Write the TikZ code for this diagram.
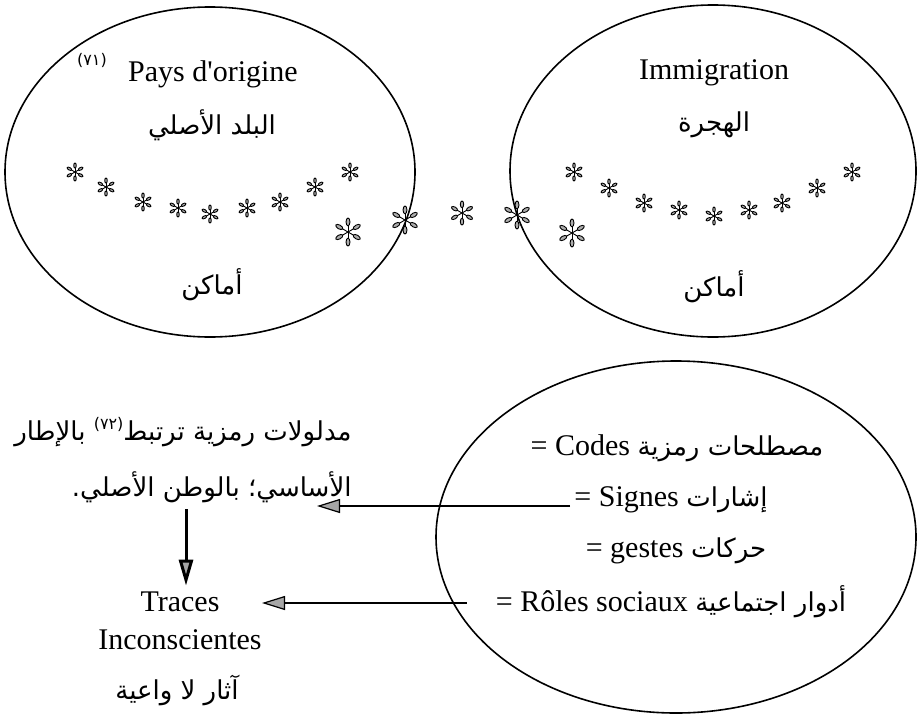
\documentclass[tikz,border=0pt]{standalone}
\usepackage{fontspec}
\setmainfont{Liberation Serif}
\newfontfamily\arabicfont[Script=Arabic]{DejaVu Sans}
\TeXXeTstate=1
\usetikzlibrary{arrows.meta, positioning, shapes.geometric, calc}

\begin{document}
\begin{tikzpicture}[
    x=0.5pt, y=-0.5pt,
    region/.style={
      draw,
      ellipse,
      line width=0.8pt
    },
    label/.style={
      font=\fontsize{15}{19}\selectfont,
      align=center,
      inner sep=2pt
    },
    artext/.style={
      font=\arabicfont\fontsize{13}{28}\selectfont,
      inner sep=2pt
    },
    entry/.style={
      font=\fontsize{15}{19}\selectfont,
      anchor=base,
      inner sep=2pt
    },
    arrow/.style={
      -{Triangle[length=11.5pt, width=7pt, fill=gray!70]},
      line width=0.6pt
    },
    flake/.pic={
      \foreach \a in {30,90,...,330} {
        \draw [line width=0.45pt] (0,0) -- (\a:0.5);
        \filldraw [fill=gray!65, line width=0.45pt, rotate=\a] (0.72,0) ellipse (0.28 and 0.14);
      }
    }
]
\useasboundingbox (0,0) rectangle (919,717);

% Top regions
\node (origin) [region, minimum width=205pt, minimum height=165pt] at (210,172) {};
\node (immig) [region, minimum width=203pt, minimum height=166pt] at (713,171) {};

\node (pays) [label] at (213,74) {Pays d\textquotesingle origine};
\node (note1) [artext, font=\arabicfont\fontsize{8}{8}\selectfont] at (92,60) {(٧١)};
\node (balad) [artext] at (212,125) {\beginR البلد الأصلي\endR};
\node (places1) [artext] at (212,285) {أماكن};

\node (immigration) [label] at (714,73) {Immigration};
\node (hijra) [artext] at (714,125) {الهجرة};
\node (places2) [artext] at (714,287) {أماكن};

% Stars
\foreach \p in {(75,172),(106,187),(143,202),(178,208),(210,214),(247,208),(280,202),(315,187),(350,172),
                (574,172),(609,188),(644,203),(679,210),(714,216),(749,210),(782,203),(817,188),(852,172)}
  \pic [scale=9] at \p {flake};
\foreach \p/\s in {(348,232)/14,(405,220)/14,(462,213)/12,(517,215)/14,(572,233)/14}
  \pic [scale=\s] at \p {flake};

% Symbolic codes
\node (symbols) [region, minimum width=240pt, minimum height=176pt] at (676,537) {};
\node (codes) [entry] at (677,455) {= Codes {\arabicfont\fontsize{13}{19}\selectfont\beginR مصطلحات رمزية\endR}};
\node (signes) [entry] at (671,506) {= Signes {\arabicfont\fontsize{13}{19}\selectfont إشارات}};
\node (gestes) [entry] at (676,557) {= gestes {\arabicfont\fontsize{13}{19}\selectfont حركات}};
\node (roles) [entry] at (671,611) {= Rôles sociaux {\arabicfont\fontsize{13}{19}\selectfont\beginR أدوار اجتماعية\endR}};

% Meanings and traces
\node (meaning) [artext, align=right, anchor=east, inner sep=0pt] at (352,460)
  {\beginR مدلولات رمزية ترتبط\raisebox{0.8ex}{\fontsize{8}{8}\selectfont(٧٢)} بالإطار\endR\\
   \beginR الأساسي؛ بالوطن الأصلي\kern0pt.\endR};
\node (traces) [label] at (180,621) {Traces\\Inconscientes};
\node (athar) [artext] at (177,690) {\beginR آثار لا واعية\endR};

\coordinate (tip1) at (317,506);
\coordinate (tip2) at (262,603);
\draw [arrow] (signes.west |- tip1) -- (tip1);
\draw [arrow] (roles.west |- tip2) ++(-25,0) -- (tip2);
\draw [arrow, line width=1.5pt, -{Triangle[length=13pt, width=7pt, fill=gray!70]}]
  ($(traces.north |- meaning.south)+(6,6)$) -- ($(traces.north)+(6,-2)$);

\end{tikzpicture}
\end{document}
